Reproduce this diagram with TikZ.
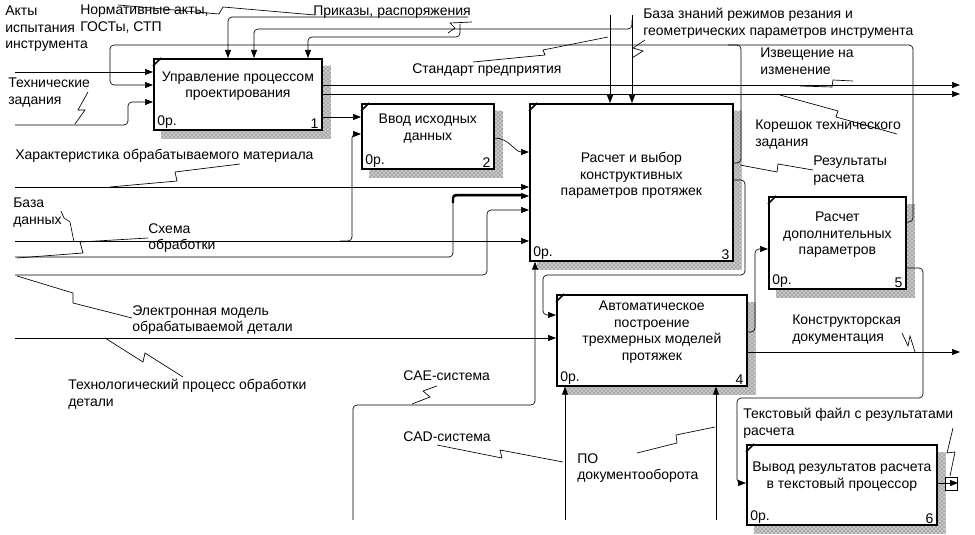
\documentclass[tikz,border=0pt]{standalone}
\usepackage{fontspec}
\setmainfont{Liberation Sans}
\usetikzlibrary{arrows.meta,patterns,backgrounds}

\tikzset{
  fn/.style={draw, fill=white, line width=1.3pt, inner sep=0pt, anchor=north west},
  fntext/.style={align=center, inner sep=0pt, font=\fontsize{10.5}{12.4}\selectfont},
  lbl/.style={align=left, inner sep=0pt, anchor=north west, font=\fontsize{10.5}{12.4}\selectfont},
  corner/.style={inner xsep=3pt, inner ysep=1.5pt, font=\fontsize{10.5}{12.4}\selectfont},
  arr/.style={-{Triangle[length=6pt,width=4.5pt]}, line width=0.5pt, rounded corners=3pt},
  ln/.style={line width=0.5pt, rounded corners=3pt},
  squig/.style={line width=0.5pt},
}

\begin{document}
\begin{tikzpicture}[x=0.75pt,y=-0.75pt]
\useasboundingbox (0,0) rectangle (975,535);

% blocks
\node[fn, minimum width=126pt, minimum height=53.25pt] (b1) at (153,58) {};
\node[fn, minimum width=99pt, minimum height=48.75pt] (b2) at (361,103) {};
\node[fn, minimum width=152.25pt, minimum height=117.75pt] (b3) at (529,103) {};
\node[fn, minimum width=142.5pt, minimum height=68.25pt] (b4) at (556,294) {};
\node[fn, minimum width=102.75pt, minimum height=69pt] (b5) at (768,196) {};
\node[fn, minimum width=142.5pt, minimum height=60pt] (b6) at (746,444) {};

\node[fntext] (t1) at ([yshift=6pt]b1.center) {Управление процессом\\проектирования};
\node[fntext] (t2) at ([yshift=6pt]b2.center) {Ввод исходных\\данных};
\node[fntext] (t3) at ([yshift=5pt]b3.center) {Расчет и выбор\\конструктивных\\параметров протяжек};
\node[fntext] (t4) at ([yshift=6pt]b4.center) {Автоматическое\\построение\\трехмерных моделей\\протяжек};
\node[fntext] (t5) at ([yshift=6pt]b5.center) {Расчет\\дополнительных\\параметров};
\node[fntext] (t6) at ([yshift=6pt]b6.center) {Вывод результатов расчета\\в текстовый процессор};

\foreach \b/\n in {b1/1,b2/2,b3/3,b4/4,b5/5,b6/6} {
  \node[corner, anchor=south west] (\b-op) at (\b.south west) {0р.};
  \node[corner, anchor=south east] (\b-num) at (\b.south east) {\n};
  \draw[line width=1.2pt] ([shift={(8,0)}]\b.north west) -- ([shift={(0,8)}]\b.north west);
}

% shadows
\begin{scope}[on background layer]
\foreach \b in {b1,b2,b3,b4,b5,b6} {
  \fill[black!22] ([shift={(8,8)}]\b.north west) rectangle ([shift={(8,8)}]\b.south east);
  \fill[pattern=crosshatch dots, pattern color=black!70]
    ([shift={(8,8)}]\b.north west) rectangle ([shift={(8,8)}]\b.south east);
}
\end{scope}

% inputs of block 1
\coordinate (akty) at (15,72);
\draw[arr] (akty) -- (b1.west |- akty);
\coordinate (tz) at (15,125);
\draw[arr] (tz) -- (128,125) -- (128,102) -- (b1.west |- 0,102);
\draw[arr] (b5.east |- 0,222) -- (913,222) -- (913,45) -- (110,45) -- (110,85) -- (b1.west |- 0,85);
\draw[ln] (b3.east |- 0,163) -- (741,163) -- (741,45) -- (728,45);

% controls
\coordinate (norm) at (468,17);
\draw[arr] (norm) -- (228,17) -- (b1.north -| 228,0);
\coordinate (prik) at (460,24);
\draw[arr] (prik) -- (460,37) -- (308,37) -- (b1.north -| 308,0);
\coordinate (bz) at (632,15);
\draw[arr] (bz) -- (b3.north -| bz);
\draw[arr] (632,20) -- (632,29) -- (254,29) -- (b1.north -| 254,0);
\coordinate (std) at (610,15);
\draw[arr] (std) -- (b3.north -| std);

% outputs of block 1
\coordinate (izv) at (960,85);
\coordinate (kor) at (960,94);
\draw[arr] (b1.east |- izv) -- (izv);
\draw[arr] (b1.east |- kor) -- (kor);
\draw[arr] (b1.east |- 0,117) -- (b2.west |- 0,117);

% inputs of block 3
\coordinate (har) at (15,187);
\draw[arr] (har) -- (b3.west |- har);
\coordinate (bd) at (15,241);
\draw[arr] (bd) -- (b3.west |- bd);
\draw[arr] (340,241) -- (352,241) -- (352,134) -- (b2.west |- 0,134);
\coordinate (sh) at (15,257);
\draw[arr] (sh) -- (453,257) -- (453,196) -- (b3.west |- 0,196);
\draw[line width=1.6pt, rounded corners=2pt] (453,203) -- (453,195) -- (521,195);
\coordinate (em) at (15,275);
\draw[arr] (em) -- (487,275) -- (487,210) -- (b3.west |- 0,210);
\draw[arr, rounded corners=0pt] (b2.east |- 0,138) to[out=0,in=180] (b3.west |- 0,152);

% block 4
\coordinate (tp) at (15,338);
\draw[arr] (tp) -- (b4.west |- tp);
\draw[arr] (b3.east |- 0,180) -- (745,180) -- (745,275) -- (543,275) -- (543,315) -- (b4.west |- 0,315);
\coordinate (cae) at (353,520);
\draw[arr] (cae) -- (353,405) -- (535,405) -- (b3.south -| 535,0);
\coordinate (cad) at (565,520);
\draw[arr] (cad) -- (b4.south -| cad);
\coordinate (po) at (716,520);
\draw[arr] (po) -- (b4.south -| po);
\coordinate (kd) at (960,352);
\draw[arr] (b4.east |- kd) -- (kd);
\draw[arr] (b4.east |- 0,332) -- (755,332) -- (755,249) -- (b5.west |- 0,249);

% blocks 5 and 6
\draw[arr] (b5.east |- 0,268) -- (923,268) -- (923,398) -- (737,398) -- (737,483) -- (b6.west |- 0,483);
\coordinate (tf) at (958,483);
\draw[arr] (b6.east |- tf) -- (tf);
\draw[line width=0.5pt] (945,477) rectangle (957,490);

% labels
\node[lbl] (l-akty) at (5,6) {Акты\\испытания\\инструмента};
\node[lbl] (l-norm) at (80,5) {Нормативные акты,\\ГОСТы, СТП};
\node[lbl] (l-prik) at (313,6) {Приказы, распоряжения};
\node[lbl] (l-bz) at (643,8) {База знаний режимов резания и\\геометрических параметров инструмента};
\node[lbl] (l-std) at (412,63) {Стандарт предприятия};
\node[lbl] (l-izv) at (760,48) {Извещение на\\изменение};
\node[lbl] (l-kor) at (755,120) {Корешок технического\\задания};
\node[lbl] (l-rez) at (813,156) {Результаты\\расчета};
\node[lbl] (l-tz) at (8,78) {Технические\\задания};
\node[lbl] (l-har) at (15,149) {Характеристика обрабатываемого материала};
\node[lbl] (l-bd) at (13,198) {База\\данных};
\node[lbl] (l-sh) at (148,223) {Схема\\обработки};
\node[lbl] (l-em) at (132,305) {Электронная модель\\обрабатываемой детали};
\node[lbl] (l-tp) at (68,379) {Технологический процесс обработки\\детали};
\node[lbl] (l-cae) at (403,370) {CAE-система};
\node[lbl] (l-cad) at (403,431) {CAD-система};
\node[lbl] (l-po) at (577,453) {ПО\\документооборота};
\node[lbl] (l-kd) at (792,315) {Конструкторская\\документация};
\node[lbl] (l-tf) at (743,408) {Текстовый файл с результатами\\расчета};

% squiggles
\draw[squig] (118,5) -- (219,14) -- (223,7) -- (315,15);
\draw[squig] (472,22) -- (450,23) -- (455,28) -- (448,33);
\draw[squig] (608,37) -- (543,50) -- (545,55) -- (473,62);
\draw[squig] (645,40) -- (633,48) -- (643,51) -- (632,58);
\draw[squig] (800,86) -- (832,87) -- (833,80) -- (853,81);
\draw[squig] (780,95) -- (838,111) -- (836,117) -- (897,134);
\draw[squig] (740,165) -- (777,172) -- (778,164) -- (813,170);
\draw[squig] (75,124) -- (85,110) -- (78,110) -- (88,92);
\draw[squig] (240,164) -- (175,172) -- (177,181) -- (110,187);
\draw[squig] (61,211) -- (64,218) -- (70,222) -- (74,242);
\draw[squig] (148,238) -- (80,242) -- (83,253) -- (17,258);
\draw[squig] (132,318) -- (73,303) -- (73,293) -- (17,276);
\draw[squig] (105,338) -- (143,362) -- (145,353) -- (183,377);
\draw[squig] (437,386) -- (423,391) -- (430,397) -- (412,404);
\draw[squig] (437,445) -- (502,458) -- (500,450) -- (563,462);
\draw[squig] (637,453) -- (677,443) -- (676,435) -- (715,427);
\draw[squig] (902,333) -- (908,346) -- (910,336) -- (915,352);
\draw[squig] (953,428) -- (947,453) -- (955,452) -- (950,476);
\end{tikzpicture}
\end{document}
